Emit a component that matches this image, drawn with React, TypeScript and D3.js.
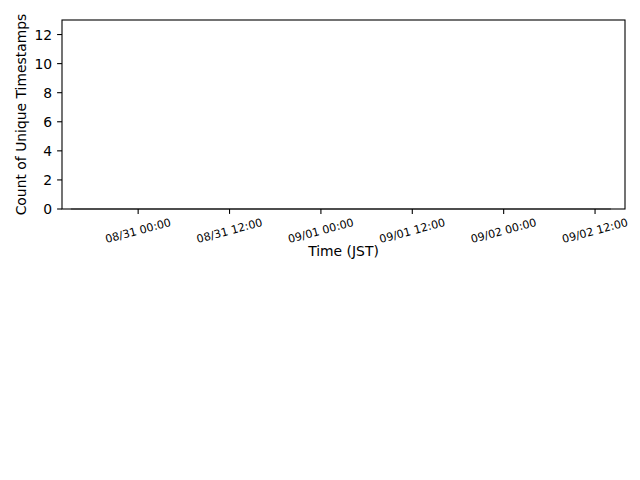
import * as d3 from "d3";
import { useEffect } from "react";

// timestamps are JST wall-clock times, kept as UTC so the browser zone doesn't matter
const times = [
    "2024-08-30T15:10",
    "2024-08-31T03:00",
    "2024-08-31T15:00",
    "2024-09-01T03:00",
    "2024-09-01T15:00",
    "2024-09-02T03:00",
    "2024-09-02T14:05",
];
const counts = [0, 0, 0, 0, 0, 0, 0];

const xTicks = [
    "2024-08-31T00:00",
    "2024-08-31T12:00",
    "2024-09-01T00:00",
    "2024-09-01T12:00",
    "2024-09-02T00:00",
    "2024-09-02T12:00",
];
const yTicks = [0, 2, 4, 6, 8, 10, 12];
const xDomain = ["2024-08-30T14:00", "2024-09-02T15:56"];
const yMax = 13;

const parse = (s: string) => new Date(s + ":00Z");

export default function App() {
    useEffect(() => {
        document.body.style.margin = "0";
    }, []);

    const width = 640;
    const height = 480;
    const margin = { top: 20, right: 15, bottom: 271, left: 62 };
    const x0 = margin.left;
    const x1 = width - margin.right;
    const y0 = height - margin.bottom;
    const y1 = margin.top;

    const x = d3.scaleUtc()
        .domain(xDomain.map(parse))
        .range([x0, x1]);
    const y = d3.scaleLinear()
        .domain([0, yMax])
        .range([y0, y1]);

    const fmt = d3.utcFormat("%m/%d %H:%M");
    const data = times.map((t, i) => ({ t: parse(t), v: counts[i] }));
    const line = d3.line<{ t: Date, v: number }>()
        .x(d => x(d.t))
        .y(d => y(d.v));

    const font = "DejaVu Sans, sans-serif";

    return (
        <svg width={width} height={height} style={{ display: "block" }} fontFamily={font}>
            <rect width={width} height={height} fill="white" />

            <path d={line(data)!} fill="none" stroke="#aaa" strokeWidth={2} />

            {/* x axis ticks */}
            {xTicks.map(s => {
                const t = parse(s);
                const px = x(t);
                return (
                    <g key={s}>
                        <line x1={px} x2={px} y1={y0} y2={y0 + 4.9} stroke="black" strokeWidth={1.1} />
                        <text
                            transform={`translate(${px},231) rotate(-15)`}
                            textAnchor="middle"
                            dominantBaseline="central"
                            fontSize={11.1}
                            fill="black"
                        >{fmt(t)}</text>
                    </g>
                );
            })}

            {/* y axis ticks */}
            {yTicks.map(v => (
                <g key={v}>
                    <line x1={x0 - 4.9} x2={x0} y1={y(v)} y2={y(v)} stroke="black" strokeWidth={1.1} />
                    <text
                        x={x0 - 9.8}
                        y={y(v)}
                        textAnchor="end"
                        dominantBaseline="central"
                        fontSize={13.9}
                        fill="black"
                    >{v}</text>
                </g>
            ))}

            {/* spines */}
            <rect x={x0} y={y1} width={x1 - x0} height={y0 - y1} fill="none" stroke="black" strokeWidth={1.1} />

            <text x={(x0 + x1) / 2} y={256} textAnchor="middle" fontSize={13.9} fill="black">Time (JST)</text>
            <text
                transform={`translate(26,${(y0 + y1) / 2}) rotate(-90)`}
                textAnchor="middle"
                fontSize={13.9}
                fill="black"
            >Count of Unique Timestamps</text>
        </svg>
    );
}
